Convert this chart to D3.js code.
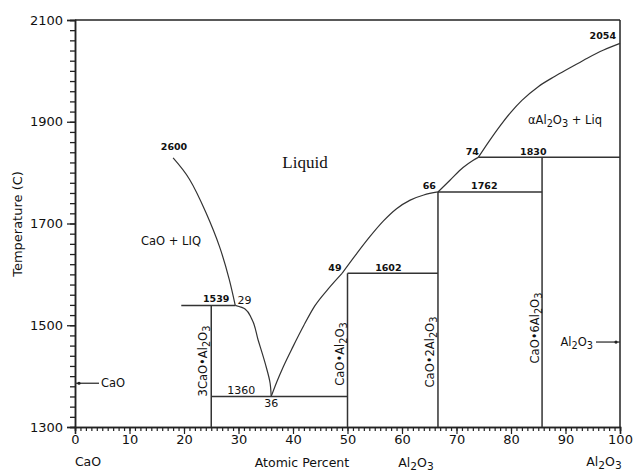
<!DOCTYPE html>
<html><head><meta charset="utf-8">
<script src="https://cdn.jsdelivr.net/npm/d3@7"></script>
<style>
body{margin:0;background:#fff;}
svg{display:block;}
text{font-family:"DejaVu Sans",Verdana,sans-serif;fill:#111;}
</style></head>
<body><svg id="c" width="634" height="472"></svg>
<script>
// ---- data ----
const xTicks = [0,10,20,30,40,50,60,70,80,90,100];
const yTicks = [1300,1500,1700,1900,2100];
// liquidus branches [atomic %, T]
const liqCaO = [[18.0,1829],[21.0,1787],[24.0,1722],[26.5,1655],[28.3,1590],[29.4,1539]];
const liqC3A = [[29.4,1539],[31.2,1532],[32.4,1513],[33.6,1471],[34.9,1425],[35.8,1386],[36.0,1360]];
const liqC12 = [[36,1360],[37,1388],[38.2,1418],[40,1458],[42,1500],[44,1538],[46.5,1572],[49,1602]];
const liqCA = [[49,1602],[51.7,1641],[54.1,1674],[56.6,1705],[59.0,1729],[61.5,1746],[64.0,1756],[66.6,1762]];
const liqCA2 = [[66.6,1762],[68.8,1785],[71.2,1810],[73.0,1824],[74,1830]];
const liqAl = [[74,1830],[76,1862],[78,1892],[80,1919],[82,1942],[85,1969],[88,1989],[91,2007],[94,2025],[97,2041],[100,2054]];
// isotherms [x1, x2, T]
const isotherms = [[19.5,29.4,1539],[25,50,1360],[50,66.6,1602],[66.6,85.7,1762],[74,100,1830]];
// compound lines [x, Ttop]
const compounds = [[25,1539],[50,1602],[66.6,1762],[85.7,1830]];

const svg = d3.select("#c");
const x = d3.scaleLinear([0,100],[75,620]);
const y = d3.scaleLinear([1300,2100],[427,20]);
const ink = "#222";

// frame
svg.append("line").attr("x1",x(0)).attr("x2",x(100)).attr("y1",y(2100)).attr("y2",y(2100)).attr("stroke",ink).attr("stroke-width",1.5);
svg.append("line").attr("x1",x(100)).attr("x2",x(100)).attr("y1",y(2100)).attr("y2",y(1300)).attr("stroke",ink).attr("stroke-width",1.5);

// axes
const yMinor = d3.range(1300,2101,20);
const gy = svg.append("g").attr("transform",`translate(${x(0)},0)`);
gy.call(d3.axisLeft(y).tickValues(yMinor).tickSize(5).tickFormat(""));
gy.append("g").call(d3.axisLeft(y).tickValues(yTicks).tickSize(8).tickFormat(d3.format("d")));
gy.selectAll("path.domain").attr("stroke",ink).attr("stroke-width",1.5);
gy.selectAll("line").attr("stroke",ink).attr("stroke-width",1.3);
gy.selectAll("text").attr("font-size",13).attr("fill","#111").attr("dx",-1);

const xMinor = d3.range(0,101,1);
const gx = svg.append("g").attr("transform",`translate(0,${y(1300)})`);
gx.call(d3.axisBottom(x).tickValues(xMinor).tickSize(4).tickFormat(""));
gx.append("g").call(d3.axisBottom(x).tickValues(xTicks).tickSize(7).tickFormat(d3.format("d")));
gx.selectAll("path.domain").attr("stroke",ink).attr("stroke-width",1.5);
gx.selectAll("line").attr("stroke",ink).attr("stroke-width",1.2);
gx.selectAll("text").attr("font-size",13).attr("fill","#111").attr("dy","0.5em");

// lines
const lineX = d3.line().x(d=>x(d[0])).y(d=>y(d[1])).curve(d3.curveMonotoneX);
const lineY = d3.line().x(d=>x(d[0])).y(d=>y(d[1])).curve(d3.curveMonotoneY);
const lineN = d3.line().x(d=>x(d[0])).y(d=>y(d[1])).curve(d3.curveNatural);
svg.append("path").attr("d",lineN(liqCaO)).attr("fill","none").attr("stroke","#333").attr("stroke-width",1.2);
svg.append("path").attr("d",lineY(liqC3A)).attr("fill","none").attr("stroke","#333").attr("stroke-width",1.2);
[liqC12, liqCA, liqCA2, liqAl].forEach(s=>{
  svg.append("path").attr("d",lineX(s)).attr("fill","none").attr("stroke","#333").attr("stroke-width",1.2);
});
isotherms.forEach(d=>{
  svg.append("line").attr("x1",x(d[0])).attr("x2",x(d[1])).attr("y1",y(d[2])).attr("y2",y(d[2])).attr("stroke","#333").attr("stroke-width",1.5);
});
compounds.forEach(d=>{
  svg.append("line").attr("x1",x(d[0])).attr("x2",x(d[0])).attr("y1",y(d[1])).attr("y2",y(1300)).attr("stroke","#333").attr("stroke-width",1.5);
});

// text helpers
function label(px,py,str,opts={}){
  const fs = opts.size||10;
  const t = svg.append("text").attr("x",px).attr("y",py)
    .attr("font-size",fs).attr("text-anchor",opts.anchor||"middle")
    .attr("font-weight",opts.weight||"normal");
  if(opts.rotate) t.attr("transform",`rotate(-90,${px},${py})`);
  if(opts.family) t.style("font-family",opts.family);
  const parts = str.split(/(_\d)/).filter(p=>p.length);
  let prevSub = false;
  parts.forEach(p=>{
    if(p.startsWith("_")){
      t.append("tspan").text(p.slice(1)).attr("dy",3).attr("font-size",fs*0.85);
      prevSub = true;
    } else {
      const ts = t.append("tspan").text(p).attr("font-size",fs);
      if(prevSub) ts.attr("dy",-3);
      prevSub = false;
    }
  });
  return t;
}
const small = {size:9.5,weight:"bold"};
label(174,150,"2600",small);
label(x(25.9),y(1545),"1539",small);
label(x(31.1),y(1542),"29",{size:11});
label(x(30.5),y(1365),"1360",{size:11});
label(x(36),y(1340),"36",{size:11});
label(x(47.7),y(1607),"49",small);
label(x(57.5),y(1607),"1602",small);
label(x(65),y(1767),"66",small);
label(x(75.1),y(1767),"1762",small);
label(x(72.9),y(1835),"74",small);
label(x(84.1),y(1835),"1830",small);
label(616,39,"2054",{size:9.5,weight:"bold",anchor:"end"});
label(305,168,"Liquid",{size:17,family:"'Liberation Serif','DejaVu Serif',serif"});
label(171,245,"CaO + LIQ",{size:11.5});
label(565,124,"\u03b1Al_2O_3 + Liq",{size:11.5});
label(207,361,"3CaO\u2022Al_2O_3",{size:11.5,rotate:true});
label(344,354,"CaO\u2022Al_2O_3",{size:11.5,rotate:true});
label(434,352,"CaO\u20222Al_2O_3",{size:11.5,rotate:true});
label(539,328,"CaO\u20226Al_2O_3",{size:11.5,rotate:true});

// pure-component markers
const markers = [["CaO",0,1386,1],["Al_2O_3",100,1467,-1]];
markers.forEach(m=>{
  const px=x(m[1]), py=y(m[2]);
  svg.append("line").attr("x1",px).attr("x2",px+m[3]*24).attr("y1",py).attr("y2",py).attr("stroke","#333").attr("stroke-width",1.3);
  svg.append("circle").attr("cx",px+m[3]*4).attr("cy",py).attr("r",1.6).attr("fill","#222");
  if(m[3]>0) label(px+26,py+4,m[0],{size:11.5,anchor:"start"});
  else label(px-27,py+4,m[0],{size:11.5,anchor:"end"});
});

// axis titles
label(22,224,"Temperature (C)",{size:13,rotate:true});
label(88,466,"CaO",{size:12.5});
label(302,467,"Atomic Percent",{size:12.5});
label(416,467,"Al_2O_3",{size:12.5});
label(604,466,"Al_2O_3",{size:12.5});
</script></body></html>
